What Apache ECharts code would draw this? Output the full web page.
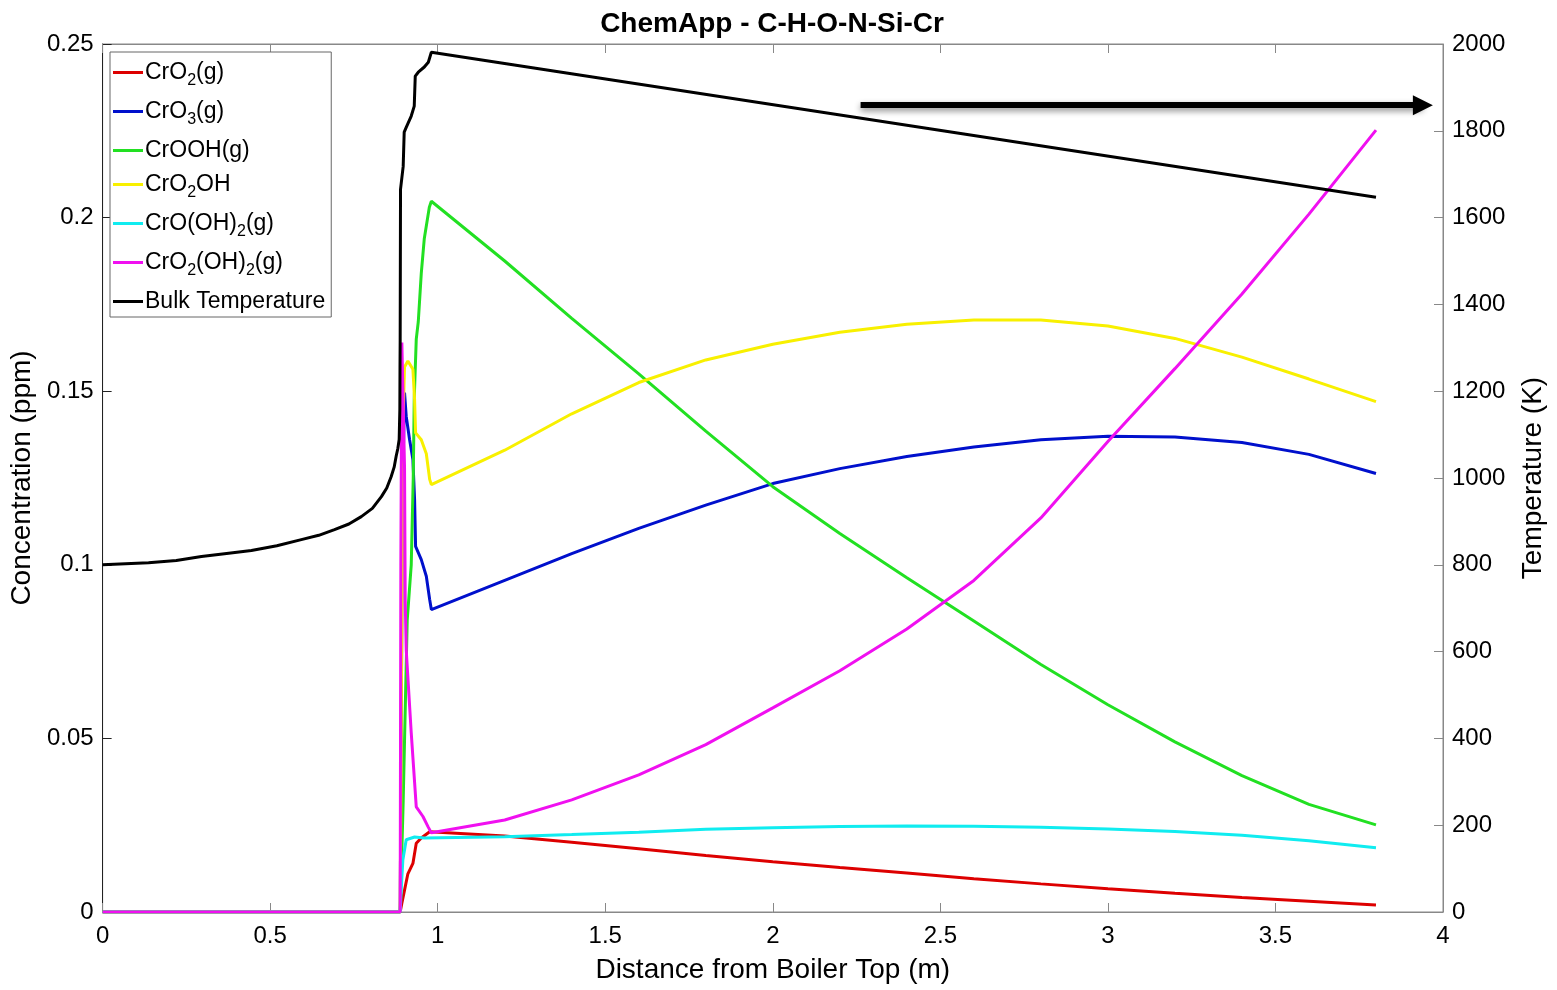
<!DOCTYPE html>
<html>
<head>
<meta charset="utf-8">
<style>
  html, body { margin: 0; padding: 0; background: #fff; }
  #chart { width: 1557px; height: 990px; }
</style>
<script src="https://cdn.jsdelivr.net/npm/echarts@6/dist/echarts.min.js"></script>
</head>
<body>
<div id="chart"></div>
<script>
// distance (m) / concentration (ppm)
const cro2X = [0, 0.888, 0.893, 0.901, 0.911, 0.926, 0.936, 0.951, 0.976, 0.981, 1.2, 1.4, 1.6, 1.8, 2.0, 2.2, 2.4, 2.6, 2.8, 3.0, 3.2, 3.4, 3.6, 3.8]
const cro2Y = [0, 0, 0.0025, 0.0063, 0.011, 0.014, 0.0198, 0.0213, 0.0231, 0.0236, 0.0219, 0.0201, 0.0182, 0.0163, 0.0145, 0.0128, 0.0112, 0.0096, 0.0081, 0.0067, 0.0054, 0.0042, 0.0031, 0.002]

const cro3X = [0, 0.888, 0.895, 0.901, 0.906, 0.916, 0.926, 0.931, 0.934, 0.951, 0.966, 0.976, 0.981, 1.2, 1.4, 1.6, 1.8, 2.0, 2.2, 2.4, 2.6, 2.8, 3.0, 3.2, 3.4, 3.6, 3.8]
const cro3Y = [0, 0, 0.12, 0.1496, 0.1428, 0.1361, 0.1303, 0.1188, 0.1053, 0.1015, 0.0967, 0.09, 0.0871, 0.0955, 0.1032, 0.1105, 0.1172, 0.1234, 0.1277, 0.1312, 0.1339, 0.136, 0.137, 0.1368, 0.1352, 0.1318, 0.1263]

const crooHX = [0, 0.888, 0.897, 0.909, 0.921, 0.927, 0.930, 0.936, 0.942, 0.951, 0.960, 0.975, 0.981, 1.2, 1.4, 1.6, 1.8, 2.0, 2.2, 2.4, 2.6, 2.8, 3.0, 3.2, 3.4, 3.6, 3.8]
const crooHY = [0, 0, 0.032, 0.084, 0.100, 0.125, 0.148, 0.165, 0.170, 0.184, 0.194, 0.203, 0.2047, 0.1875, 0.171, 0.155, 0.1385, 0.1225, 0.109, 0.0963, 0.0838, 0.0713, 0.0597, 0.049, 0.0393, 0.031, 0.0251]

const cro2ohX = [0, 0.888, 0.896, 0.901, 0.911, 0.926, 0.931, 0.934, 0.951, 0.966, 0.976, 0.981, 1.2, 1.4, 1.6, 1.8, 2.0, 2.2, 2.4, 2.6, 2.8, 3.0, 3.2, 3.4, 3.6, 3.8]
const cro2ohY = [0, 0, 0.140, 0.157, 0.1587, 0.1563, 0.1476, 0.138, 0.136, 0.132, 0.1246, 0.1231, 0.133, 0.1435, 0.1525, 0.159, 0.1635, 0.167, 0.1693, 0.1705, 0.1705, 0.1688, 0.1652, 0.1598, 0.1535, 0.147]

const croOH2X = [0, 0.888, 0.891, 0.896, 0.906, 0.931, 0.96, 1.2, 1.4, 1.6, 1.8, 2.0, 2.2, 2.4, 2.6, 2.8, 3.0, 3.2, 3.4, 3.6, 3.8]
const croOH2Y = [0, 0, 0.0063, 0.015, 0.0208, 0.0216, 0.0213, 0.0217, 0.0223, 0.023, 0.0238, 0.0243, 0.0246, 0.0248, 0.0247, 0.0244, 0.0239, 0.0232, 0.0221, 0.0205, 0.0185]

const cro2OH2X = [0, 0.888, 0.890, 0.893, 0.901, 0.903, 0.906, 0.921, 0.936, 0.956, 0.971, 0.981, 1.2, 1.4, 1.6, 1.8, 2.0, 2.2, 2.4, 2.6, 2.8, 3.0, 3.2, 3.4, 3.6, 3.8]
const cro2OH2Y = [0, 0, 0.10, 0.164, 0.128, 0.09, 0.0755, 0.0516, 0.0303, 0.0275, 0.0246, 0.0228, 0.0265, 0.0323, 0.0395, 0.0482, 0.0588, 0.0695, 0.0815, 0.0955, 0.1135, 0.1355, 0.1565, 0.178, 0.201, 0.2252]

// bulk temperature (K), right axis
const tempX = [0, 0.137, 0.22, 0.295, 0.37, 0.444, 0.52, 0.593, 0.645, 0.692, 0.735, 0.772, 0.805, 0.832, 0.848, 0.861, 0.870, 0.876, 0.881, 0.885, 0.887, 0.8875, 0.888, 0.889, 0.897, 0.900, 0.906, 0.921, 0.930, 0.933, 0.942, 0.960, 0.972, 0.981, 3.8]
const tempY = [800, 805, 810, 819, 826, 833, 844, 858, 868, 881, 894, 911, 930, 957, 977, 1003, 1025, 1050, 1068, 1089, 1158, 1257, 1319, 1665, 1718, 1797, 1808, 1834, 1857, 1926, 1935, 1947, 1958, 1981, 1647]

// annotation arrow (x in m, T in K)
const arrowX = [2.262, 3.94]
const arrowT = 1859

const zip = (xs, ys) => xs.map((x, i) => [x, ys[i]])

const labels = {
  'CrO2(g)': 'CrO{s|2}(g)',
  'CrO3(g)': 'CrO{s|3}(g)',
  'CrOOH(g)': 'CrOOH(g)',
  'CrO2OH': 'CrO{s|2}OH',
  'CrO(OH)2(g)': 'CrO(OH){s|2}(g)',
  'CrO2(OH)2(g)': 'CrO{s|2}(OH){s|2}(g)',
  'Bulk Temperature': 'Bulk Temperature'
}

const font = 'Liberation Sans, Arial, sans-serif'

const line = (name, color, data, extra) => Object.assign({
  name: name,
  type: 'line',
  data: data,
  showSymbol: false,
  symbol: 'none',
  color: color,
  lineStyle: { width: 3, color: color },
  emphasis: { disabled: true }
}, extra || {})

const chart = echarts.init(document.getElementById('chart'))

chart.setOption({
  animation: false,
  backgroundColor: '#fff',
  textStyle: { fontFamily: font },
  title: {
    text: 'ChemApp - C-H-O-N-Si-Cr',
    left: 767,
    top: 5,
    textAlign: 'center',
    textStyle: { fontSize: 28, fontWeight: 'bold', color: '#000', fontFamily: font }
  },
  grid: {
    left: 101,
    right: 114,
    top: 44,
    bottom: 78,
    show: true,
    borderColor: '#888',
    borderWidth: 1
  },
  legend: {
    orient: 'vertical',
    left: 110,
    top: 52,
    padding: [9, 6, 4, 3],
    itemGap: 11,
    itemWidth: 30,
    itemHeight: 3,
    icon: 'rect',
    backgroundColor: '#fff',
    borderColor: '#666',
    borderWidth: 1,
    borderRadius: 0,
    selectedMode: false,
    formatter: name => labels[name],
    textStyle: {
      fontSize: 23,
      color: '#000',
      padding: [0, 0, 0, -3],
      fontFamily: font,
      rich: {
        s: { fontSize: 16, padding: [17, 0, 0, 0], fontFamily: font, color: '#000' }
      }
    }
  },
  xAxis: [
    {
      type: 'value',
      min: 0,
      max: 4,
      interval: 0.5,
      name: 'Distance from Boiler Top (m)',
      nameLocation: 'middle',
      nameGap: 44,
      nameTextStyle: { fontSize: 28, color: '#000', fontFamily: font },
      axisLine: { show: true, onZero: false, lineStyle: { color: '#888', width: 1 } },
      axisTick: { show: true, inside: true, length: 9, lineStyle: { color: '#888' } },
      axisLabel: { fontSize: 24, color: '#000', margin: 12, fontFamily: font },
      splitLine: { show: false }
    },
    {
      type: 'value',
      position: 'top',
      min: 0,
      max: 4,
      interval: 0.5,
      axisLine: { show: true, onZero: false, lineStyle: { color: '#888', width: 1 } },
      axisTick: { show: true, inside: true, length: 9, lineStyle: { color: '#888' } },
      axisLabel: { show: false },
      splitLine: { show: false }
    }
  ],
  yAxis: [
    {
      type: 'value',
      min: 0,
      max: 0.25,
      interval: 0.05,
      name: 'Concentration (ppm)',
      nameLocation: 'middle',
      nameGap: 59,
      nameTextStyle: { fontSize: 28, color: '#000', fontFamily: font },
      axisLine: { show: true, onZero: false, lineStyle: { color: '#222', width: 1 } },
      axisTick: { show: true, inside: true, length: 9, lineStyle: { color: '#222' } },
      axisLabel: { fontSize: 24, color: '#000', margin: 9, fontFamily: font },
      splitLine: { show: false }
    },
    {
      type: 'value',
      min: 0,
      max: 2000,
      interval: 200,
      position: 'right',
      name: 'Temperature (K)',
      nameLocation: 'middle',
      nameGap: 76,
      nameRotate: 90,
      nameTextStyle: { fontSize: 28, color: '#000', fontFamily: font },
      axisLine: { show: true, onZero: false, lineStyle: { color: '#888', width: 1 } },
      axisTick: { show: true, inside: true, length: 9, lineStyle: { color: '#888' } },
      axisLabel: { fontSize: 24, color: '#000', margin: 9, fontFamily: font, formatter: v => String(v) },
      splitLine: { show: false }
    }
  ],
  series: [
    line('CrO2(g)', '#dd0000', zip(cro2X, cro2Y)),
    line('CrO3(g)', '#0010cc', zip(cro3X, cro3Y)),
    line('CrOOH(g)', '#22e022', zip(crooHX, crooHY)),
    line('CrO2OH', '#f8f000', zip(cro2ohX, cro2ohY)),
    line('CrO(OH)2(g)', '#10ecf0', zip(croOH2X, croOH2Y)),
    line('CrO2(OH)2(g)', '#f010f0', zip(cro2OH2X, cro2OH2Y)),
    line('Bulk Temperature', '#000000', zip(tempX, tempY), {
      yAxisIndex: 1,
      markLine: {
        silent: true,
        symbol: ['none', 'triangle'],
        symbolSize: 20,
        label: { show: false },
        lineStyle: {
          type: 'solid',
          color: '#000',
          width: 6,
          shadowBlur: 6,
          shadowColor: 'rgba(0,0,0,0.45)',
          shadowOffsetY: 3
        },
        data: [[{ coord: [arrowX[0], arrowT] }, { coord: [arrowX[1], arrowT] }]]
      }
    })
  ]
})
</script>
</body>
</html>
